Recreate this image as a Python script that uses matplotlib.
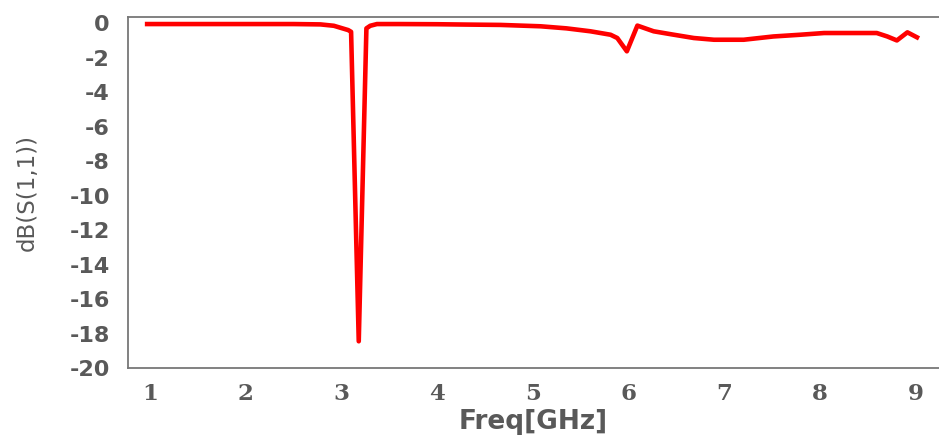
import matplotlib
matplotlib.use("Agg")
import matplotlib.pyplot as plt

# S11 response
freq = [0.97, 1.5, 2.0, 2.5, 2.78, 2.92, 3.07, 3.10, 3.18, 3.26, 3.30, 3.37, 3.6,
        4.0, 4.3, 4.66, 5.08, 5.35, 5.60, 5.81, 5.88, 5.98, 6.09, 6.26, 6.45,
        6.68, 6.89, 7.20, 7.51, 7.79, 8.04, 8.30, 8.59, 8.70, 8.80, 8.91, 9.01]
s11_db = [-0.05, -0.05, -0.05, -0.05, -0.07, -0.15, -0.4, -0.5, -18.45, -0.3, -0.15, -0.05, -0.05,
          -0.06, -0.08, -0.1, -0.18, -0.3, -0.47, -0.67, -0.86, -1.63, -0.14, -0.47, -0.65,
          -0.86, -0.96, -0.96, -0.77, -0.67, -0.57, -0.57, -0.57, -0.77, -1.0, -0.53, -0.82]

xticks = [1, 2, 3, 4, 5, 6, 7, 8, 9]
yticks = [0, -2, -4, -6, -8, -10, -12, -14, -16, -18, -20]

grey = "#595959"

fig = plt.figure(figsize=(9.39, 4.47), dpi=100)
ax = fig.add_axes([0.1363, 0.1767, 0.8637, 0.7853])

ax.plot(freq, s11_db, color="#ff0000", linewidth=3.3, solid_joinstyle="round")

ax.set_xlim(0.77, 9.24)
ax.set_ylim(-20, 0.36)
ax.set_xticks(xticks)
ax.set_yticks(yticks)
ax.set_xticklabels([str(t) for t in xticks], family="DejaVu Serif",
                   fontweight="bold", fontsize=16.5, color=grey)
ax.set_yticklabels([str(t) for t in yticks], family="DejaVu Sans",
                   fontweight="bold", fontsize=16, color=grey)
ax.tick_params(axis="both", length=0)
ax.tick_params(axis="x", pad=11)
ax.tick_params(axis="y", pad=13)

for side in ["left", "top", "bottom"]:
    ax.spines[side].set_color("#777777")
    ax.spines[side].set_linewidth(1.3)
ax.spines["right"].set_visible(False)

ax.set_xlabel("Freq[GHz]", fontsize=19, fontweight="bold", color=grey, labelpad=3)
ax.set_ylabel("dB(S(1,1))", fontsize=16.5, fontweight="medium", color=grey, labelpad=22)

fig.savefig("out.png", dpi=100)
